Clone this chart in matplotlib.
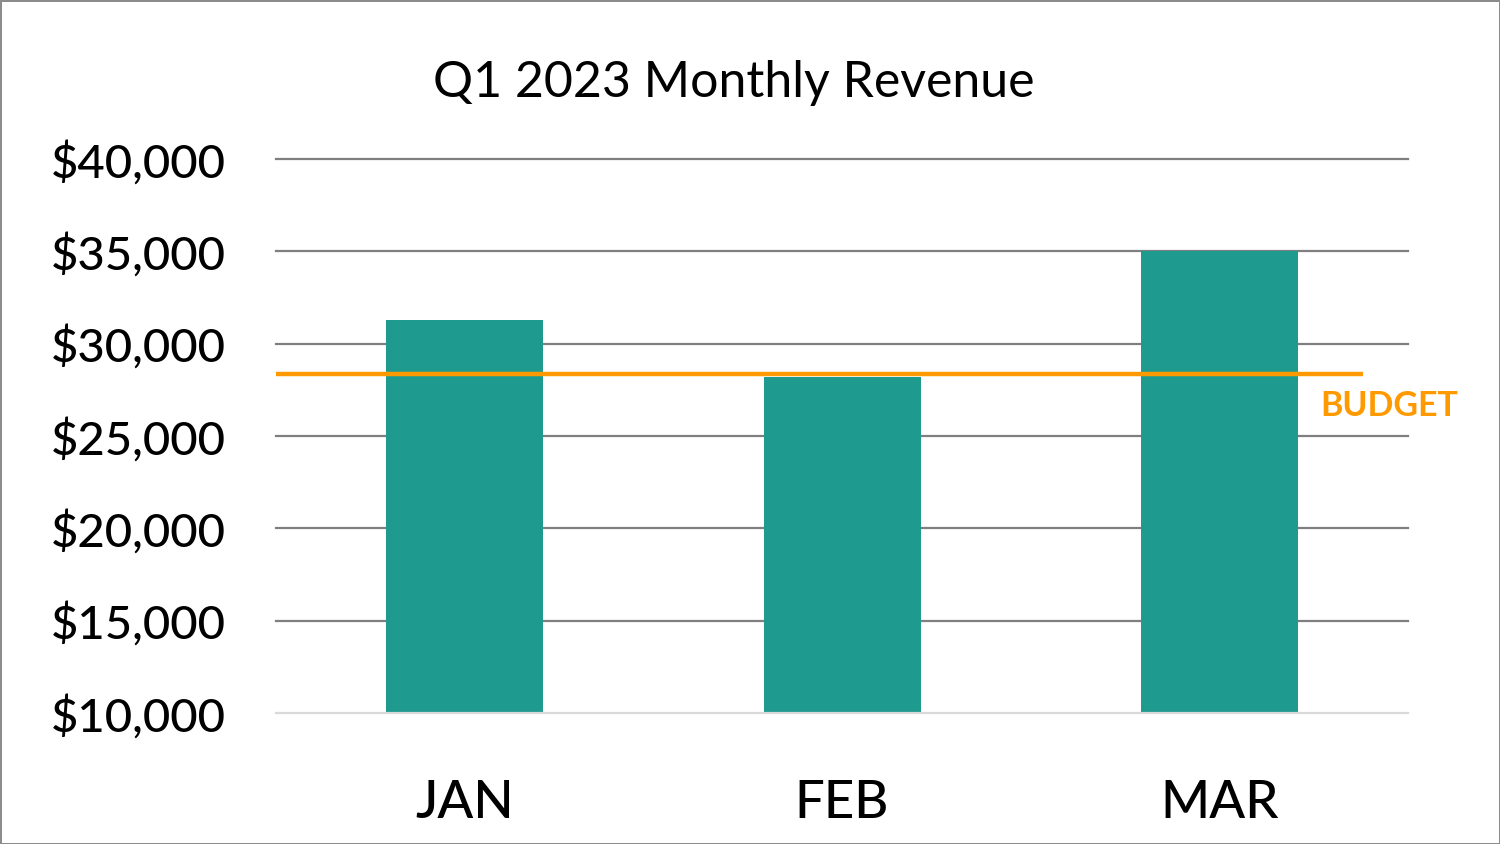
import matplotlib.pyplot as plt
from matplotlib.ticker import FuncFormatter

plt.rcParams['font.family'] = ['Lato', 'DejaVu Sans']

# data
months = ['JAN', 'FEB', 'MAR']
revenue = [31300, 28200, 35000]
budget = 28350
y_ticks = [10000, 15000, 20000, 25000, 30000, 35000, 40000]

bar_color = '#1f9a8f'
budget_color = '#ff9900'

fig = plt.figure(figsize=(15, 8.44), dpi=100)
fig.patch.set_edgecolor('#8c8c8c')
fig.patch.set_linewidth(2)
ax = fig.add_axes([0.184, 0.1552, 0.7547, 0.6564])

x = range(len(months))
ax.bar(x, revenue, width=0.416, color=bar_color, zorder=2)

# budget line
ax.plot([-0.5, 2.38], [budget, budget], color=budget_color, linewidth=3.2, zorder=3,
        solid_capstyle='butt')
ax.text(2.268, budget - 1700, 'BUDGET', color=budget_color, fontsize=24.5,
        fontweight='bold', va='center', ha='left')

ax.set_xlim(-0.5, 2.5)
ax.set_ylim(10000, 40000)
ax.set_yticks(y_ticks)
ax.yaxis.set_major_formatter(FuncFormatter(lambda v, p: '${:,.0f}'.format(v)))
ax.set_xticks(list(x))
ax.set_xticklabels(months)

for v in y_ticks[1:]:
    ax.axhline(v, color='#7f7f7f', linewidth=1.6, zorder=1, clip_on=False)

for s in ['top', 'right', 'left']:
    ax.spines[s].set_visible(False)
ax.spines['bottom'].set_color('#d9d9d9')
ax.spines['bottom'].set_linewidth(1.6)

ax.tick_params(axis='y', length=0, pad=36, labelsize=34)
ax.tick_params(axis='x', length=0, pad=48, labelsize=38)
for lbl in ax.get_yticklabels() + ax.get_xticklabels():
    lbl.set_fontweight('medium')

fig.text(0.489, 0.902, 'Q1 2023 Monthly Revenue', fontsize=36, ha='center', va='center')

plt.savefig('out.png')
